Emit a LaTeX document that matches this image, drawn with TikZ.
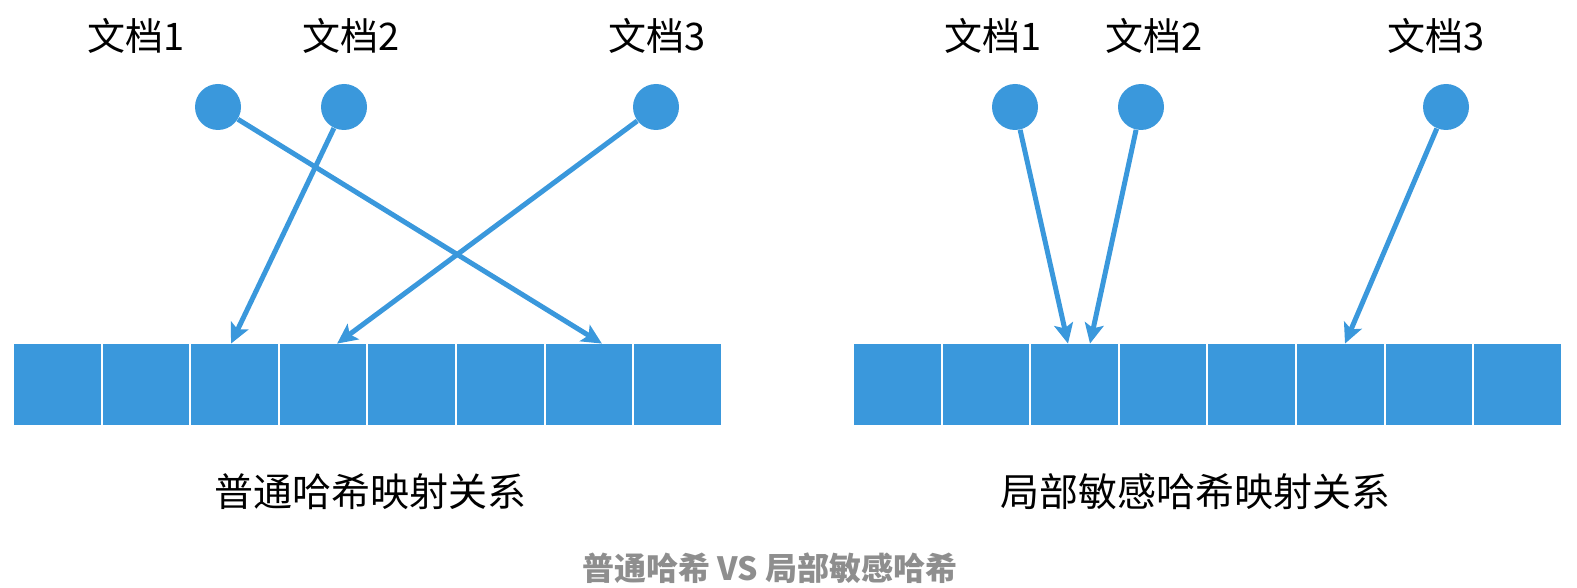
\documentclass[tikz,border=0pt]{standalone}
\usepackage{fontspec}
\setmainfont{Noto Sans CJK SC}
\usepackage{xcolor}
\usetikzlibrary{arrows.meta, positioning}
\definecolor{hashblue}{RGB}{58,152,220}
\definecolor{capgray}{RGB}{142,142,142}

\begin{document}
\begin{tikzpicture}[x=0.5pt, y=-0.5pt,
    cell/.style={fill=hashblue, minimum width=43.3pt, minimum height=40.5pt, inner sep=0pt},
    doc/.style={circle, fill=hashblue, minimum size=23pt, inner sep=0pt},
    lbl/.style={font=\fontsize{19pt}{22pt}\selectfont, inner sep=0pt},
    title/.style={font=\fontsize{19.5pt}{23pt}\selectfont, inner sep=0pt},
    maparrow/.style={draw=hashblue, line width=2.5pt, -{Stealth[length=10pt, width=9.5pt, inset=2.2pt]}}]
    \useasboundingbox (0,0) rectangle (1577,588);
    % Hash tables
    \foreach \i in {0,...,7} {
        \node[cell] (l\i) at (57.3+88.6*\i, 384.5) {};
        \node[cell] (r\i) at (897.3+88.6*\i, 384.5) {};
    }
    % Left: ordinary hash
    \node[lbl] (ln1) at (136,36) {文档1};
    \node[lbl] (ln2) at (351,36) {文档2};
    \node[lbl] (ln3) at (657,36) {文档3};
    \node[doc] (ld1) at (218,107) {};
    \node[doc] (ld2) at (344,107) {};
    \node[doc] (ld3) at (656,107) {};
    \draw[maparrow] (ld1) -- ([xshift=6.5pt]l6.north);
    \draw[maparrow] (ld2) -- ([xshift=-1.75pt]l2.north);
    \draw[maparrow] (ld3) -- ([xshift=7pt]l3.north);
    \node[title] (lt) at (370,492) {普通哈希映射关系};
    % Right: locality sensitive hash
    \node[lbl] (rn1) at (993,36) {文档1};
    \node[lbl] (rn2) at (1154,36) {文档2};
    \node[lbl] (rn3) at (1436,36) {文档3};
    \node[doc] (rd1) at (1015,107) {};
    \node[doc] (rd2) at (1141,107) {};
    \node[doc] (rd3) at (1446,107) {};
    \draw[maparrow] (rd1) -- ([xshift=-3.25pt]r2.north);
    \draw[maparrow] (rd2) -- ([xshift=7.75pt]r2.north);
    \draw[maparrow] (rd3) -- ([xshift=2.35pt]r5.north);
    \node[title] (rt) at (1195,492) {局部敏感哈希映射关系};
    % Caption
    \node[text=capgray, font=\fontsize{16pt}{19pt}\selectfont\bfseries, inner sep=0pt] (cap) at (770,568) {普通哈希 VS 局部敏感哈希};
\end{tikzpicture}
\end{document}
